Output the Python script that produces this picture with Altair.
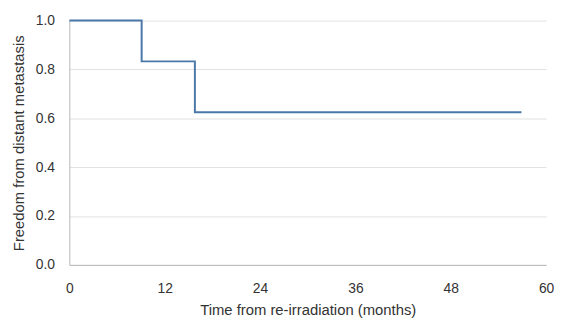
import altair as alt
import pandas as pd

time_months = [0, 9.1, 15.8, 56.9]
survival = [1.0, 0.833, 0.625, 0.625]
x_ticks = [0, 12, 24, 36, 48, 60]
y_ticks = [0.0, 0.2, 0.4, 0.6, 0.8, 1.0]

df = pd.DataFrame({"t": time_months, "s": survival})

chart = alt.Chart(df).mark_line(
    interpolate="step-after", color="#4a78a8", strokeWidth=2
).encode(
    x=alt.X("t:Q", scale=alt.Scale(domain=[0, 60], nice=False),
            axis=alt.Axis(values=x_ticks, title="Time from re-irradiation (months)",
                          grid=False, ticks=False, labelPadding=17, titlePadding=7,
                          domainColor="#b8b8b8", labelFlush=False)),
    y=alt.Y("s:Q", scale=alt.Scale(domain=[0, 1], nice=False),
            axis=alt.Axis(values=y_ticks, format=".1f", title="Freedom from distant metastasis",
                          grid=True, gridColor="#e2e2e2", ticks=False, labelPadding=15,
                          titlePadding=9, domainColor="#b8b8b8")),
).properties(
    width=482, height=247,
    autosize=alt.AutoSizeParams(type="none"),
    padding={"left": 62, "top": 11, "right": 9, "bottom": 54},
).configure_axis(
    labelFont="Liberation Sans", titleFont="Liberation Sans",
    labelFontSize=14, titleFontSize=15, labelColor="#333333", titleColor="#333333",
    titleFontWeight="normal",
).configure_view(stroke=None)

chart.save("out.html", embed_options={"renderer": "svg", "actions": False})
